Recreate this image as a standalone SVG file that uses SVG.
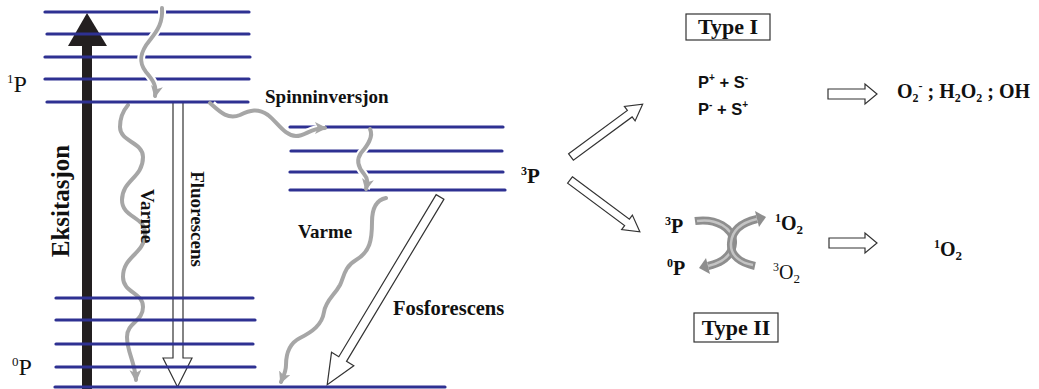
<svg xmlns="http://www.w3.org/2000/svg" width="1039" height="389" viewBox="0 0 1039 389">
  <defs>
    <style>
      .lvl { stroke: #2E3192; stroke-width: 3.2; stroke-linecap: round; fill: none; }
      .wave { stroke: #A6A6A6; stroke-width: 4; fill: none; stroke-linecap: round; }
      .halo { stroke: #FFFFFF; stroke-width: 8; fill: none; }
      .hollow { fill: #FFFFFF; stroke: #333333; stroke-width: 1.2; stroke-linejoin: miter; }
      .band { stroke: #8E8E8E; stroke-width: 8; fill: none; }
      .bandhi { stroke: #C4C4C4; stroke-width: 2.5; fill: none; }
      .serif { font-family: "Liberation Serif", "Times New Roman", serif; fill: #111; }
      .b { font-weight: bold; }
      .sans { font-family: "Liberation Sans", Arial, sans-serif; font-weight: bold; fill: #111; }
    </style>
    <marker id="grayHead" markerUnits="userSpaceOnUse" markerWidth="14" markerHeight="14" refX="10" refY="6" orient="auto">
      <path d="M0,0 L12,6 L0,12 L3,6 Z" fill="#A6A6A6"/>
    </marker>
  </defs>

  <rect width="1039" height="389" fill="#FFFFFF"/>

  <!-- excitation arrow (drawn under the energy levels) -->
  <g id="eksitasjon">
    <rect x="82" y="44" width="10" height="346" fill="#231F20"/>
    <polygon points="87,13 107,46 68,46" fill="#231F20"/>
    <text class="serif b" font-size="25" text-anchor="middle" transform="translate(69,201) rotate(-90)">Eksitasjon</text>
  </g>

  <g id="connectors">
    <!-- non-radiative decay to ground state -->
    <path class="wave" marker-end="url(#grayHead)" d="M128,105 C122,112 120,120 120,127 C120,142 143,142 143,157 C143,178 122,180 122,200 C122,218 145,216 145,233 C145,255 123,255 123,277 C123,293 143,292 143,307 C143,322 127,322 127,337 C127,352 135,362 136,380"/>
    <path class="wave" marker-end="url(#grayHead)" d="M386,198 C376,200 372,208 372,222 C372,240 370,252 356,260 C344,267 344,277 340,285 C334,296 326,300 324,312 C322,325 312,332 300,338 C288,344 286,355 286,365 C286,372 283,377 281,382"/>

    <!-- fluorescence -->
    <polygon class="hollow" points="173,102 183,102 183,358 192,358 177.5,387 163,358 173,358"/>
    <!-- phosphorescence -->
    <polygon class="hollow" transform="translate(440,197) rotate(121)" points="0,-4.5 189,-4.5 189,-13 219,0 189,13 189,4.5 0,4.5"/>

    <!-- paths to type I / type II -->
    <polygon class="hollow" transform="translate(571,157) rotate(-36.4)" points="0,-4 73,-4 73,-9 89,0 73,9 73,4 0,4"/>
    <polygon class="hollow" transform="translate(570,180) rotate(36.6)" points="0,-4 71,-4 71,-9 87,0 71,9 71,4 0,4"/>
    <polygon class="hollow" points="828,89 865,89 865,84 877,94 865,104 865,99 828,99"/>
    <polygon class="hollow" points="829,238 865,238 865,233 877,243 865,253 865,248 829,248"/>
  </g>

  <!-- singlet excited levels -->
  <g id="level-1P">
    <line class="lvl" x1="45" y1="12" x2="249" y2="12"/>
    <line class="lvl" x1="47" y1="34" x2="249" y2="34"/>
    <line class="lvl" x1="45" y1="57" x2="250" y2="57"/>
    <line class="lvl" x1="45" y1="79" x2="249" y2="79"/>
    <line class="lvl" x1="47" y1="102" x2="248" y2="102"/>
    <text class="serif" font-size="24" fill="#333" x="7" y="92"><tspan font-size="13" dy="-9">1</tspan><tspan dy="9">P</tspan></text>
  </g>

  <!-- ground state levels -->
  <g id="level-0P">
    <line class="lvl" x1="56" y1="298" x2="253" y2="298"/>
    <line class="lvl" x1="56" y1="320" x2="255" y2="320"/>
    <line class="lvl" x1="56" y1="344" x2="253" y2="344"/>
    <line class="lvl" x1="56" y1="367" x2="255" y2="367"/>
    <line class="lvl" x1="55" y1="387" x2="445" y2="387"/>
    <text class="serif" font-size="24" fill="#333" x="12" y="375"><tspan font-size="13" dy="-9">0</tspan><tspan dy="9">P</tspan></text>
  </g>

  <!-- triplet levels -->
  <g id="level-3P">
    <line class="lvl" x1="290" y1="127" x2="503" y2="127"/>
    <line class="lvl" x1="291" y1="151" x2="502" y2="151"/>
    <line class="lvl" x1="290" y1="172" x2="503" y2="172"/>
    <line class="lvl" x1="290" y1="190" x2="505" y2="190"/>
    <text class="serif b" font-size="21" x="521" y="183"><tspan font-size="12" dy="-8">3</tspan><tspan dy="8">P</tspan></text>
  </g>

  <!-- relaxation and intersystem crossing (cut through the levels) -->
  <g id="relaxation">
    <path class="halo" d="M162,8 C163,22 158,30 150,40 C140,52 138,62 146,72 C153,80 157,86 155,96"/>
    <path class="wave" marker-end="url(#grayHead)" d="M162,8 C163,22 158,30 150,40 C140,52 138,62 146,72 C153,80 157,86 155,96"/>
    <path class="halo" d="M212,104 C220,112 228,120 240,115 C250,110 258,108 268,115 C278,123 285,136 296,136 C306,136 310,128 325,128"/>
    <path class="wave" marker-end="url(#grayHead)" d="M210,103 C220,112 228,120 240,115 C250,110 258,108 268,115 C278,123 285,136 296,136 C306,136 310,128 325,128"/>
    <path class="halo" d="M370,131 C374,137 367,146 361,153 C356,160 358,167 364,174 C369,180 367,184 366,189"/>
    <path class="wave" marker-end="url(#grayHead)" d="M370,129 C374,137 367,146 361,153 C356,160 358,167 364,174 C369,180 367,184 366,189"/>
  </g>

  <g id="labels">
    <text class="serif b" font-size="19" text-anchor="middle" transform="translate(141,216) rotate(90)">Varme</text>
    <text class="serif b" font-size="19" text-anchor="middle" transform="translate(191,219) rotate(90)">Fluorescens</text>
    <text class="serif b" font-size="19" x="265" y="103">Spinninversjon</text>
    <text class="serif b" font-size="19" x="298" y="238">Varme</text>
    <text class="serif b" font-size="20.5" x="393" y="315">Fosforescens</text>
  </g>

  <!-- type I reaction -->
  <g id="type-1">
    <rect x="686" y="14" width="84" height="26" fill="none" stroke="#333" stroke-width="1.2"/>
    <text class="serif b" font-size="22" text-anchor="middle" x="728" y="34">Type I</text>
    <text class="sans" font-size="16.5" x="698" y="88">P<tspan font-size="10" dy="-7">+</tspan><tspan dy="7"> + S</tspan><tspan font-size="10" dy="-7">-</tspan></text>
    <text class="sans" font-size="16.5" x="698" y="115">P<tspan font-size="10" dy="-7">-</tspan><tspan dy="7"> +  S</tspan><tspan font-size="10" dy="-7">+</tspan></text>
    <text class="serif b" font-size="20" x="897" y="98">O<tspan font-size="12" dy="4">2</tspan><tspan font-size="12" dy="-12">-</tspan><tspan dy="8"> ; H</tspan><tspan font-size="12" dy="4">2</tspan><tspan dy="-4">O</tspan><tspan font-size="12" dy="4">2</tspan><tspan dy="-4"> ; OH</tspan></text>
  </g>

  <!-- type II reaction: two curved transfer arrows meeting in the middle -->
  <g id="type-2">
    <path class="band" d="M695,221 C716,218 734,228 733,243 C732,256 721,263 708,266"/>
    <path class="bandhi" d="M697,221 C716,218 734,228 733,243 C732,256 721,263 708,266"/>
    <polygon points="699,268 706,258 710,274" fill="#8E8E8E"/>
    <path class="band" d="M755,266 C741,263 730,256 731,243 C732,229 744,222 757,219"/>
    <path class="bandhi" d="M753,265 C741,263 730,256 731,243 C732,229 744,222 757,219"/>
    <polygon points="766,217 755,211 759,227" fill="#8E8E8E"/>
    <text class="serif b" font-size="20" x="665" y="233"><tspan font-size="12" dy="-8">3</tspan><tspan dy="8">P</tspan></text>
    <text class="serif b" font-size="20" x="667" y="275"><tspan font-size="12" dy="-8">0</tspan><tspan dy="8">P</tspan></text>
    <text class="serif b" font-size="20" x="775" y="230"><tspan font-size="12" dy="-8">1</tspan><tspan dy="8">O</tspan><tspan font-size="13" dy="4">2</tspan></text>
    <text class="serif" font-size="20" x="773" y="279"><tspan font-size="12" dy="-8">3</tspan><tspan dy="8">O</tspan><tspan font-size="13" dy="4">2</tspan></text>
    <text class="serif b" font-size="20" x="934" y="256"><tspan font-size="12" dy="-8">1</tspan><tspan dy="8">O</tspan><tspan font-size="13" dy="4">2</tspan></text>
    <rect x="694" y="313" width="84" height="29" fill="none" stroke="#333" stroke-width="1.2"/>
    <text class="serif b" font-size="22" text-anchor="middle" x="736" y="335">Type II</text>
  </g>
</svg>
